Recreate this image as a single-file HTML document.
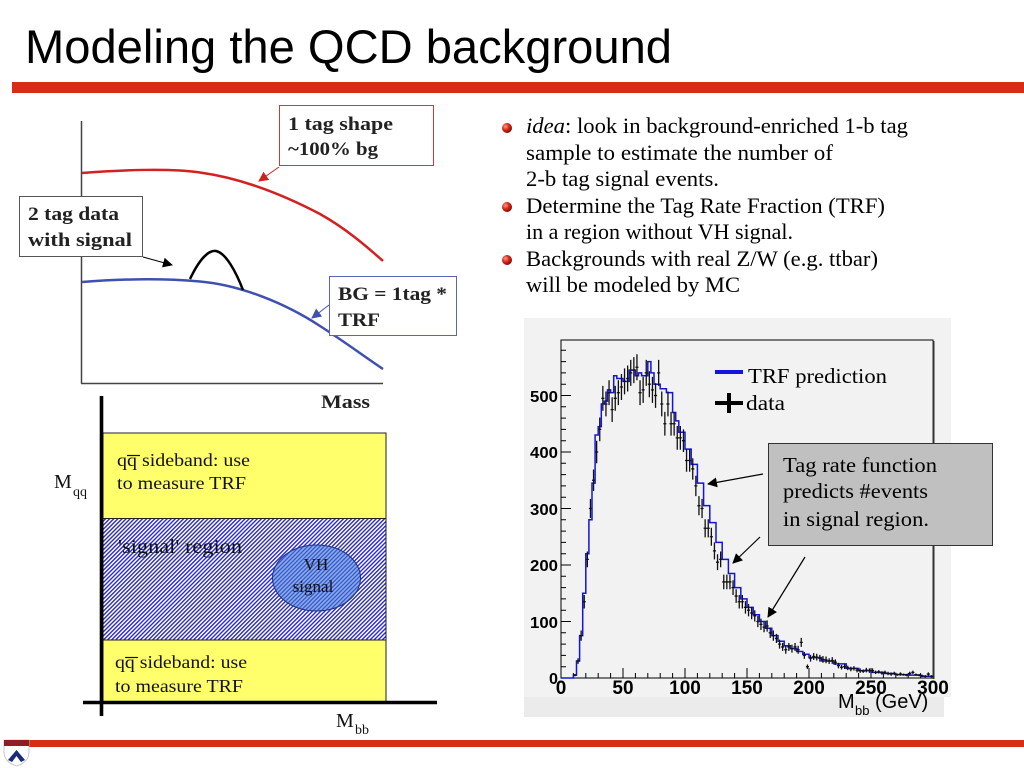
<!DOCTYPE html>
<html><head><meta charset="utf-8"><style>
html,body{margin:0;padding:0;background:#fff;}
svg{display:block;}
</style></head><body>
<svg width="1024" height="768" viewBox="0 0 1024 768" xmlns="http://www.w3.org/2000/svg">
<defs>
<pattern id="hatch" width="2.9" height="2.9" patternUnits="userSpaceOnUse" patternTransform="rotate(45)">
<rect width="2.9" height="2.9" fill="#fff"/>
<line x1="0.7" y1="0" x2="0.7" y2="2.9" stroke="#2a2ac4" stroke-width="1.4"/>
</pattern>
<pattern id="hatch2" width="2.9" height="2.9" patternUnits="userSpaceOnUse" patternTransform="rotate(45)">
<line x1="0.7" y1="0" x2="0.7" y2="2.9" stroke="#2f48b8" stroke-width="1.1"/>
</pattern>
<radialGradient id="ball" cx="0.35" cy="0.35" r="0.7">
<stop offset="0" stop-color="#ff9a8a"/><stop offset="0.5" stop-color="#d42a1a"/><stop offset="1" stop-color="#7a0a05"/>
</radialGradient>
<marker id="ahR" markerWidth="10" markerHeight="10" refX="9" refY="5" orient="auto" markerUnits="userSpaceOnUse"><path d="M0,0 L10,5 L0,10 z" fill="#d02020"/></marker>
<marker id="ahK" markerWidth="10" markerHeight="10" refX="9" refY="5" orient="auto" markerUnits="userSpaceOnUse"><path d="M0,0 L10,5 L0,10 z" fill="#000"/></marker>
<marker id="ahB" markerWidth="10" markerHeight="10" refX="9" refY="5" orient="auto" markerUnits="userSpaceOnUse"><path d="M0,0 L10,5 L0,10 z" fill="#4050b0"/></marker>
</defs>

<!-- Title -->
<text x="25" y="63" font-family="Liberation Sans, Arial, sans-serif" font-size="47" fill="#000" textLength="647" lengthAdjust="spacingAndGlyphs">Modeling the QCD background</text>
<rect x="12" y="82" width="1012" height="11" fill="#d62d14"/>

<!-- Top-left sketch -->
<line x1="81.5" y1="121" x2="81.5" y2="383.5" stroke="#444" stroke-width="1.5"/>
<line x1="81" y1="383.5" x2="383" y2="383.5" stroke="#444" stroke-width="1.5"/>
<path d="M82,173 C120,170 170,168 200,172.5 C240,178 280,193 320,214 C345,228 365,245 383,261" fill="none" stroke="#d42020" stroke-width="2.5"/>
<path d="M82,282 C120,279 160,278 200,281.5 C240,285 285,303 320,326 C345,342 365,357 383,369" fill="none" stroke="#4050b0" stroke-width="2.5"/>
<path d="M190,279 C200,258 209,250 216,251 C226,253 236,272 243,290" fill="none" stroke="#000" stroke-width="2.5"/>

<rect x="279.5" y="105.5" width="154" height="60" fill="#fff" stroke="#c04040" stroke-width="1"/>
<text font-family="Liberation Serif, serif" font-weight="bold" font-size="19" fill="#222">
<tspan x="288" y="130" textLength="105" lengthAdjust="spacingAndGlyphs">1 tag shape</tspan>
<tspan x="288" y="155" textLength="90" lengthAdjust="spacingAndGlyphs">~100% bg</tspan>
</text>
<line x1="279" y1="167" x2="259" y2="181" stroke="#d02020" stroke-width="1" marker-end="url(#ahR)"/>

<rect x="19.5" y="196.5" width="123" height="60" fill="#fff" stroke="#555" stroke-width="1"/>
<text font-family="Liberation Serif, serif" font-weight="bold" font-size="19" fill="#222">
<tspan x="28" y="220" textLength="91" lengthAdjust="spacingAndGlyphs">2 tag data</tspan>
<tspan x="28" y="246" textLength="104" lengthAdjust="spacingAndGlyphs">with signal</tspan>
</text>
<line x1="143" y1="257" x2="172" y2="265" stroke="#000" stroke-width="1" marker-end="url(#ahK)"/>

<rect x="329.5" y="276.5" width="127" height="59" fill="#fff" stroke="#5a64b4" stroke-width="1"/>
<text font-family="Liberation Serif, serif" font-weight="bold" font-size="19" fill="#222">
<tspan x="338" y="300" textLength="109" lengthAdjust="spacingAndGlyphs">BG = 1tag *</tspan>
<tspan x="338" y="326" textLength="42" lengthAdjust="spacingAndGlyphs">TRF</tspan>
</text>
<line x1="329" y1="305" x2="312" y2="318" stroke="#4050b0" stroke-width="1" marker-end="url(#ahB)"/>

<text x="321" y="408" font-family="Liberation Serif, serif" font-weight="bold" font-size="19" fill="#222" textLength="49" lengthAdjust="spacingAndGlyphs">Mass</text>

<!-- Bottom-left diagram -->
<rect x="103" y="433" width="283" height="85.5" fill="#ffff6b" stroke="#222" stroke-width="1"/>
<rect x="103" y="518.5" width="283" height="121.5" fill="url(#hatch)" stroke="#222" stroke-width="1"/>
<rect x="103" y="640" width="283" height="62" fill="#ffff6b" stroke="#222" stroke-width="1"/>
<ellipse cx="316.5" cy="578" rx="44" ry="33" fill="#86acf2"/>
<ellipse cx="316.5" cy="578" rx="44" ry="33" fill="url(#hatch2)" stroke="#203080" stroke-width="1"/>
<line x1="101.5" y1="396" x2="101.5" y2="716" stroke="#000" stroke-width="3.6"/>
<line x1="83" y1="702.5" x2="437" y2="702.5" stroke="#000" stroke-width="3.6"/>

<g font-family="Liberation Serif, serif" fill="#111">
<text x="117" y="466" font-size="18" textLength="133" lengthAdjust="spacingAndGlyphs">qq sideband: use</text>
<line x1="127" y1="455.5" x2="140" y2="455.5" stroke="#111" stroke-width="1.2"/>
<text x="117" y="489" font-size="18" textLength="129" lengthAdjust="spacingAndGlyphs">to measure TRF</text>
<text x="118" y="553" font-size="20" textLength="124" lengthAdjust="spacingAndGlyphs">'signal' region</text>
<text x="316" y="570" font-size="17" text-anchor="middle">VH</text>
<text x="313" y="592" font-size="17" text-anchor="middle">signal</text>
<text x="115" y="668" font-size="18" textLength="132" lengthAdjust="spacingAndGlyphs">qq sideband: use</text>
<line x1="125" y1="657.5" x2="138" y2="657.5" stroke="#111" stroke-width="1.2"/>
<text x="115" y="692" font-size="18" textLength="128" lengthAdjust="spacingAndGlyphs">to measure TRF</text>
<text x="54" y="488" font-size="20">M</text>
<text x="73" y="496" font-size="14">qq</text>
<text x="336" y="727" font-size="20">M</text>
<text x="355" y="734" font-size="14">bb</text>
</g>

<!-- Bullets -->
<circle cx="507" cy="128" r="5" fill="url(#ball)"/>
<circle cx="507" cy="207" r="5" fill="url(#ball)"/>
<circle cx="507" cy="260" r="5" fill="url(#ball)"/>
<g font-family="Liberation Serif, serif" font-size="22.5" fill="#000">
<text x="526" y="133" textLength="382" lengthAdjust="spacingAndGlyphs"><tspan font-style="italic">idea</tspan>: look in background-enriched 1-b tag</text>
<text x="526" y="160" textLength="307" lengthAdjust="spacingAndGlyphs">sample  to estimate the number of</text>
<text x="526" y="186" textLength="193" lengthAdjust="spacingAndGlyphs">2-b tag signal events.</text>
<text x="526" y="213" textLength="359" lengthAdjust="spacingAndGlyphs">Determine the Tag Rate Fraction (TRF)</text>
<text x="526" y="239" textLength="267" lengthAdjust="spacingAndGlyphs">in a region without VH signal.</text>
<text x="526" y="266" textLength="352" lengthAdjust="spacingAndGlyphs">Backgrounds with real Z/W (e.g. ttbar)</text>
<text x="526" y="292" textLength="214" lengthAdjust="spacingAndGlyphs">will be modeled by MC</text>
</g>

<!-- Histogram pad -->
<rect x="524" y="318" width="427" height="379" fill="#f2f2f2"/>
<rect x="524" y="697" width="420" height="20" fill="#ebebeb"/>
<rect x="561" y="340" width="372" height="338" fill="#f2f2f2" stroke="#000" stroke-width="1"/>
<line x1="933.5" y1="341" x2="933.5" y2="679" stroke="#333" stroke-width="2"/>

<g transform="translate(561,678) scale(1.24,-0.565)">
<path vector-effect="non-scaling-stroke" fill="none" stroke="#000" stroke-width="1" d="M0,100h8.06M0,200h8.06M0,300h8.06M0,400h8.06M0,500h8.06M0,20h4.03M0,40h4.03M0,60h4.03M0,80h4.03M0,120h4.03M0,140h4.03M0,160h4.03M0,180h4.03M0,220h4.03M0,240h4.03M0,260h4.03M0,280h4.03M0,320h4.03M0,340h4.03M0,360h4.03M0,380h4.03M0,420h4.03M0,440h4.03M0,460h4.03M0,480h4.03M0,520h4.03M0,540h4.03M0,560h4.03M0,580h4.03M50,0v17.7M100,0v17.7M150,0v17.7M200,0v17.7M250,0v17.7M10,0v8.85M20,0v8.85M30,0v8.85M40,0v8.85M60,0v8.85M70,0v8.85M80,0v8.85M90,0v8.85M110,0v8.85M120,0v8.85M130,0v8.85M140,0v8.85M160,0v8.85M170,0v8.85M180,0v8.85M190,0v8.85M210,0v8.85M220,0v8.85M230,0v8.85M240,0v8.85M260,0v8.85M270,0v8.85M280,0v8.85M290,0v8.85"/>
<path vector-effect="non-scaling-stroke" fill="none" stroke="#1414d8" stroke-width="1.5" d="M0,0 H10 V5 H12.5 V30 H15 V75 H17.5 V150 H20 V220 H22.5 V280 H25 V345 H27.5 V430 H30 V445 H32.5 V485 H35 V490 H37.5 V510 H40 V505 H42.5 V535 H45 V530 H50 V525 H55 V545 H60 V535 H62.5 V540 H65 V535 H70 V560 H72.5 V540 H75 V520 H80 V512 H85 V505 H90 V470 H92.5 V455 H95 V435 H100 V405 H105 V378 H110 V345 H115 V305 H120 V275 H125 V240 H130 V210 H135 V185 H140 V160 H145 V140 H150 V125 H155 V112 H160 V100 H165 V88 H170 V75 H175 V65 H180 V57 H185 V52 H190 V47 H195 V42 H200 V36 H210 V30 H220 V25 H230 V17 H240 V13 H250 V10 H260 V8 H270 V6 H280 V5 H290 V3 H300 V0"/>
<path vector-effect="non-scaling-stroke" fill="none" stroke="#111" stroke-width="1.3" d="M10,5h2.5M11.25,3v4M12.5,30h2.5M13.75,25v10M15,75h2.5M16.25,66v18M17.5,135h2.5M18.75,123v24M20,210h2.5M21.25,196v28M22.5,300h2.5M23.75,283v34M25,350h2.5M26.25,331v38M27.5,400h2.5M28.75,380v40M30,440h2.5M31.25,419v42M32.5,495h2.5M33.75,473v44M35,485h2.5M36.25,463v44M37.5,505h2.5M38.75,483v44M40,475h2.5M41.25,453v44M42.5,495h2.5M43.75,473v44M45,505h2.5M46.25,483v44M47.5,515h2.5M48.75,492v46M50,525h2.5M51.25,502v46M52.5,530h2.5M53.75,507v46M55,540h2.5M56.25,517v46M57.5,545h2.5M58.75,522v46M60,550h2.5M61.25,527v46M62.5,505h2.5M63.75,483v44M65,510h2.5M66.25,487v46M67.5,540h2.5M68.75,517v46M70,520h2.5M71.25,497v46M72.5,510h2.5M73.75,487v46M75,500h2.5M76.25,478v44M77.5,540h2.5M78.75,517v46M80,485h2.5M81.25,463v44M82.5,450h2.5M83.75,429v42M85,485h2.5M86.25,463v44M87.5,450h2.5M88.75,429v42M90,450h2.5M91.25,429v42M92.5,425h2.5M93.75,404v42M95,425h2.5M96.25,404v42M97.5,420h2.5M98.75,400v40M100,385h2.5M101.25,365v40M102.5,385h2.5M103.75,365v40M105,370h2.5M106.25,351v38M107.5,340h2.5M108.75,322v36M110,305h2.5M111.25,288v34M112.5,300h2.5M113.75,283v34M115,265h2.5M116.25,249v32M117.5,265h2.5M118.75,249v32M120,250h2.5M121.25,234v32M122.5,225h2.5M123.75,210v30M125,205h2.5M126.25,191v28M127.5,210h2.5M128.75,196v28M130,170h2.5M131.25,157v26M132.5,170h2.5M133.75,157v26M135,170h2.5M136.25,157v26M137.5,160h2.5M138.75,147v26M140,145h2.5M141.25,133v24M142.5,135h2.5M143.75,123v24M145,135h2.5M146.25,123v24M147.5,125h2.5M148.75,114v22M150,120h2.5M151.25,109v22M152.5,115h2.5M153.75,104v22M155,110h2.5M156.25,100v20M157.5,100h2.5M158.75,90v20M160,95h2.5M161.25,85v20M162.5,90h2.5M163.75,81v18M165,92h2.5M166.25,82v20M167.5,80h2.5M168.75,71v18M170,75h2.5M171.25,66v18M172.5,70h2.5M173.75,62v16M175,60h2.5M176.25,52v16M177.5,55h2.5M178.75,48v14M180,50h2.5M181.25,43v14M182.5,55h2.5M183.75,48v14M185,52h2.5M186.25,45v14M187.5,55h2.5M188.75,48v14M190,50h2.5M191.25,43v14M192.5,63h2.5M193.75,55v16M195,40h2.5M196.25,34v12M197.5,20h2.5M198.75,16v8M200,35h2.5M201.25,29v12M202.5,38h2.5M203.75,32v12M205,37h2.5M206.25,31v12M207.5,35h2.5M208.75,29v12M210,33h2.5M211.25,27v12M212.5,32h2.5M213.75,26v12M215,30h2.5M216.25,25v10M217.5,31h2.5M218.75,25v12M220,28h2.5M221.25,23v10M222.5,22h2.5M223.75,17v10M225,19h2.5M226.25,15v8M227.5,20h2.5M228.75,16v8M230,18h2.5M231.25,14v8M232.5,16h2.5M233.75,12v8M235,17h2.5M236.25,13v8M237.5,14h2.5M238.75,10v8M240,13h2.5M241.25,9v8M242.5,12h2.5M243.75,9v6M245,14h2.5M246.25,10v8M247.5,13h2.5M248.75,9v8M250,13h2.5M251.25,9v8M252.5,10h2.5M253.75,7v6M255,11h2.5M256.25,8v6M257.5,9h2.5M258.75,6v6M260,10h2.5M261.25,7v6M262.5,8h2.5M263.75,5v6M265,7h2.5M266.25,4v6M267.5,8h2.5M268.75,5v6M270,6h2.5M271.25,4v4M272.5,7h2.5M273.75,4v6M275,6h2.5M276.25,4v4M277.5,5h2.5M278.75,3v4M280,8h2.5M281.25,5v6M282.5,10h2.5M283.75,7v6M285,6h2.5M286.25,4v4M287.5,5h2.5M288.75,3v4M290,4h2.5M291.25,2v4M292.5,3h2.5M293.75,1v4M295,7h2.5M296.25,4v6M297.5,3h2.5M298.75,1v4"/>
</g>

<!-- Y tick labels -->
<g font-family="Liberation Sans, Arial, sans-serif" font-weight="bold" font-size="16" fill="#000" text-anchor="end">
<text x="558" y="402" textLength="28" lengthAdjust="spacingAndGlyphs">500</text>
<text x="558" y="458" textLength="28" lengthAdjust="spacingAndGlyphs">400</text>
<text x="558" y="515" textLength="28" lengthAdjust="spacingAndGlyphs">300</text>
<text x="558" y="571" textLength="28" lengthAdjust="spacingAndGlyphs">200</text>
<text x="558" y="628" textLength="28" lengthAdjust="spacingAndGlyphs">100</text>
<text x="558" y="684" textLength="9" lengthAdjust="spacingAndGlyphs">0</text>
</g>
<!-- X tick labels -->
<g font-family="Liberation Sans, Arial, sans-serif" font-weight="bold" font-size="19" fill="#000" text-anchor="middle">
<text x="561" y="694">0</text>
<text x="623" y="694">50</text>
<text x="685" y="694">100</text>
<text x="747" y="694">150</text>
<text x="809" y="694">200</text>
<text x="871" y="694">250</text>
<text x="933" y="694">300</text>
</g>
<g font-family="Liberation Sans, Arial, sans-serif" fill="#000">
<text x="838" y="708" font-size="20">M</text>
<text x="855" y="715" font-size="13">bb</text>
<text x="875" y="708" font-size="20">(GeV)</text>
</g>

<!-- Legend -->
<line x1="715" y1="372" x2="743" y2="372" stroke="#1414e0" stroke-width="4"/>
<line x1="715" y1="403" x2="743" y2="403" stroke="#000" stroke-width="4"/>
<line x1="729" y1="393" x2="729" y2="413" stroke="#000" stroke-width="4"/>
<g font-family="Liberation Serif, serif" font-size="21" fill="#000">
<text x="748" y="383" textLength="139" lengthAdjust="spacingAndGlyphs">TRF prediction</text>
<text x="746" y="410" textLength="39" lengthAdjust="spacingAndGlyphs">data</text>
</g>

<!-- Annotation box -->
<rect x="768.5" y="443.5" width="224" height="102" fill="#c0c0c0" stroke="#333" stroke-width="1"/>
<g font-family="Liberation Serif, serif" font-size="21" fill="#000">
<text x="783" y="472" textLength="154" lengthAdjust="spacingAndGlyphs">Tag rate function</text>
<text x="783" y="498" textLength="145" lengthAdjust="spacingAndGlyphs">predicts #events</text>
<text x="783" y="526" textLength="146" lengthAdjust="spacingAndGlyphs">in signal region.</text>
</g>
<line x1="763" y1="474" x2="708" y2="484" stroke="#000" stroke-width="1.2" marker-end="url(#ahK)"/>
<line x1="760" y1="537" x2="733" y2="563" stroke="#000" stroke-width="1.2" marker-end="url(#ahK)"/>
<line x1="805" y1="557" x2="768" y2="617" stroke="#000" stroke-width="1.2" marker-end="url(#ahK)"/>

<!-- Bottom bar and logo -->
<rect x="29" y="740" width="995" height="7" fill="#d62d14"/>
<path d="M4,740 H29 V752 Q29,762 16.5,766 Q4,762 4,752 Z" fill="#fff" stroke="#bbb" stroke-width="0.8"/>
<rect x="4" y="740" width="25" height="6" fill="#8e1c22"/>
<path d="M8,760 L16.5,750 L25,760 L21,762 L16.5,756 L12,762 Z" fill="#1c2a7a"/>
</svg>
</body></html>
